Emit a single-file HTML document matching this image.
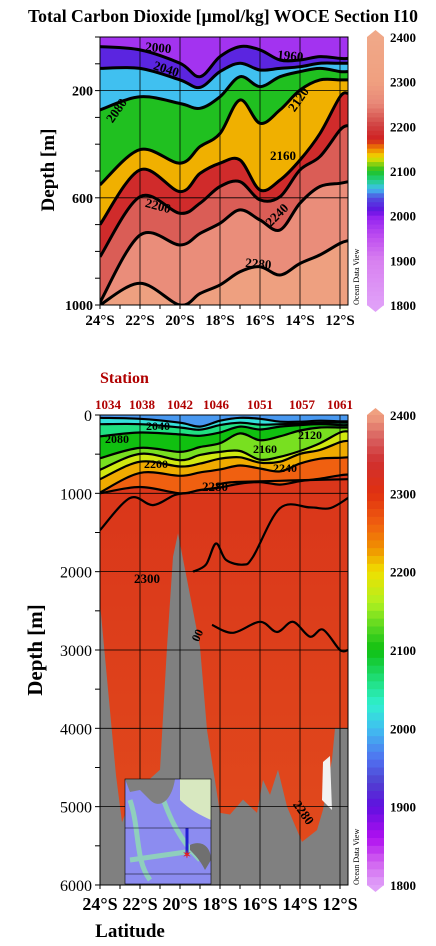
<!DOCTYPE html>
<html><head><meta charset="utf-8"><style>
html,body{margin:0;padding:0;background:#fff;}
svg{display:block;font-family:"Liberation Serif",serif;font-weight:bold;}
</style></head><body>
<svg id="fig" width="436" height="946" viewBox="0 0 436 946" xmlns="http://www.w3.org/2000/svg">
<defs>
<clipPath id="clipTop"><rect x="100" y="37" width="248" height="268"/></clipPath>
<clipPath id="clipBot"><rect x="100" y="415" width="248" height="470"/></clipPath>
<linearGradient id="deepGrad" x1="0" y1="0" x2="0" y2="1">
<stop offset="0" stop-color="#d8321a"/><stop offset="1" stop-color="#e24c1c"/>
</linearGradient>
</defs>
<text x="28" y="22" font-size="18" textLength="390" lengthAdjust="spacingAndGlyphs">Total Carbon Dioxide [µmol/kg]  WOCE Section I10</text>
<g id="topPlot"></g>
<g id="botPlot"></g>
</svg>
<script>
// ---------- data ----------
const lats = [24,22,20,19,18,17,16,15,14,13,12,11.6];
const levels = [2000,2040,2080,2120,2160,2200,2240,2280];
const depth2000 = [36,48,98,148,73,36,48,86,86,73,80,80];
const depth2040 = [117,117,160,188,129,98,123,117,111,98,98,98];
const depth2080 = [272,223,248,266,223,148,185,148,129,117,129,129];
const depth2120 = [552,420,471,409,360,235,322,272,198,160,160,160];
const depth2160 = [700,496,577,509,471,459,571,534,459,360,223,210];
const depth2200 = [820,596,658,620,558,540,608,596,496,446,347,330];
const depth2240 = [990,739,776,733,695,645,683,720,620,558,546,540];
const depth2280 = [1000,919,1000,957,925,876,857,888,845,813,770,760];
const contourDepths = [depth2000,depth2040,depth2080,depth2120,depth2160,depth2200,depth2240,depth2280];

const bottomLats = [24,23.6,23.2,22.9,22.6,22.25,21.75,21.0,20.65,20.35,20.1,19.65,19.0,18.65,18.0,17.5,16.85,16.15,15.85,15.5,15.1,14.65,13.9,13.15,12.85,12.4,12.25,11.6];
const bottomDepth = [2400,3500,4600,5200,5000,4800,4700,4530,2960,1810,1510,2100,2960,4020,5080,5100,4910,5080,4660,4850,4530,5000,5450,5300,5040,4400,4000,4000];

const c2300aLats = [24,22.5,21.35,20.25,19.5];
const c2300aDepth = [1470,1060,1150,1020,995];
const c2280bLats = [18.15,17.5,16.5,15,13.5,11.6];
const c2280bDepth = [890,860,850,840,830,820];
const c2300cLats = [19.35,18.7,18.2,17.7,16.85,16.35,15.0,13.5,12.5,11.6];
const c2300cDepth = [2000,1910,1640,1850,1910,1810,1190,1180,1190,1060];
const c2310Lats = [18.4,17.35,16.0,15.15,14.35,13.5,12.85,12.0,11.6];
const c2310Depth = [2680,2780,2640,2770,2640,2830,2740,3000,3000];

const stationIds = ["1034","1038","1042","1046","1051","1057","1061"];
const stationLats = [24,21.9,20,18.2,16,13.9,12];
const latTicks = [24,22,20,18,16,14,12];

const topColorVals = [1800,1900,1950,2000,2010,2040,2060,2080,2100,2130,2150,2170,2200,2250,2300,2400];
const topColorHex = ["#e0a0f8","#d880f0","#c050f0","#9020f0","#6010e0","#5050e0","#40c0f0","#20d080","#20c020","#f0e000","#f08000","#d02020","#d04040","#e88878","#f0a080","#f0a888"];
const botColorVals = [1800,1830,1860,1900,1930,1960,2000,2030,2060,2100,2120,2160,2200,2230,2260,2300,2340,2370,2400];
const botColorHex = ["#e0a0f8","#d060f0","#b010f0","#6010e0","#5040d0","#5070f0","#40c0f0","#30f0d0","#20e080","#10c010","#40d020","#b0f020","#f0e000","#f09000","#f06010","#e03010","#d03030","#d86060","#f0a080"];

// ---------- helpers ----------
const NS="http://www.w3.org/2000/svg";
function mk(tag,attrs,parent){const e=document.createElementNS(NS,tag);for(const k in attrs)e.setAttribute(k,attrs[k]);parent.appendChild(e);return e;}
function hex2rgb(h){return [parseInt(h.substr(1,2),16),parseInt(h.substr(3,2),16),parseInt(h.substr(5,2),16)];}
function cmap(v,vals,hex){
  if(v<=vals[0])return hex[0];
  for(let i=1;i<vals.length;i++){if(v<=vals[i]){const t=(v-vals[i-1])/(vals[i]-vals[i-1]);const a=hex2rgb(hex[i-1]),b=hex2rgb(hex[i]);return "rgb("+a.map((c,j)=>Math.round(c+(b[j]-c)*t)).join(",")+")";}}
  return hex[hex.length-1];
}
const xLat = lat => 100 + (24-lat)*20;
const yTop = d => 37 + d*0.268;
const yBot = d => 415 + d*0.07833;
function smooth(p){
  let s="M"+p[0][0].toFixed(1)+","+p[0][1].toFixed(1);
  for(let i=0;i<p.length-1;i++){
    const p0=p[Math.max(0,i-1)],p1=p[i],p2=p[i+1],p3=p[Math.min(p.length-1,i+2)];
    const c1=[p1[0]+(p2[0]-p0[0])/6,p1[1]+(p2[1]-p0[1])/6],c2=[p2[0]-(p3[0]-p1[0])/6,p2[1]-(p3[1]-p1[1])/6];
    s+=" C"+c1[0].toFixed(1)+","+c1[1].toFixed(1)+" "+c2[0].toFixed(1)+","+c2[1].toFixed(1)+" "+p2[0].toFixed(1)+","+p2[1].toFixed(1);
  }
  return s;
}
function toPts(latArr,depArr,yf){return latArr.map((l,i)=>[xLat(l),yf(depArr[i])]);}

function drawFields(g,yf,vals,hex,bgFill,clip,isTop){
  const fg=mk("g",{"clip-path":"url(#"+clip+")"},g);
  const bg=mk("rect",{x:100,y:yf(0),width:248,height:yf(isTop?1000:6000)-yf(0),fill:bgFill},fg);
  
  
  for(let k=levels.length-1;k>=0;k--){
    const p=toPts(lats,contourDepths[k],yf);
    const d=smooth(p)+" L348,"+(yf(0)-2)+" L100,"+(yf(0)-2)+" Z";
    const band=mk("path",{d:d,fill:cmap(levels[k]-20,vals,hex)},fg);
    
    
  }
  for(let k=0;k<levels.length;k++){
    const ln=mk("path",{d:smooth(toPts(lats,contourDepths[k],yf)),fill:"none",stroke:"#000","stroke-width":isTop?3:2.2},fg);
    
    
  }
  return fg;
}
function latAxis(g,y0,fs,ly){
  latTicks.forEach(l=>{
    const x=xLat(l);
    const t=mk("text",{x:x,y:ly,"font-size":fs,"text-anchor":"middle"},g);
    t.textContent=l+"°S";
    
    
  });
  for(let l=24;l>=12;l--){mk("line",{x1:xLat(l),x2:xLat(l),y1:y0,y2:y0+4,stroke:"#000"},g);}
}
function colorbar(g,y0,y1,vals,hex,labelY){
  const cb=mk("g",{},g);
  
  
  const n=60,h=(y1-y0)/n;
  for(let i=0;i<n;i++){const v=2400-(i+0.5)*600/n;mk("rect",{x:367,y:y0+i*h,width:17,height:h+0.6,fill:cmap(v,vals,hex)},cb);}
  mk("polygon",{points:"367,"+y0+" 375.5,"+(y0-7)+" 384,"+y0,fill:cmap(2400,vals,hex)},cb);
  mk("polygon",{points:"367,"+y1+" 375.5,"+(y1+7)+" 384,"+y1,fill:cmap(1800,vals,hex)},cb);
  [2400,2300,2200,2100,2000,1900,1800].forEach(v=>{
    const t=mk("text",{x:390,y:labelY(v)+5,"font-size":13},cb);t.textContent=v;
    
    
  });
}
function clabel(g,txt,x,y,rot,fs){
  const t=mk("text",{x:x,y:y,"font-size":fs||13,"text-anchor":"middle",transform:"rotate("+rot+" "+x+" "+y+")"},g);
  t.textContent=txt;
  
  
}

// ---------- top plot ----------
const gTop=document.getElementById("topPlot");
drawFields(gTop,yTop,topColorVals,topColorHex,"#eea080","clipTop",true);
[200,600].forEach(d=>mk("line",{x1:100,x2:348,y1:yTop(d),y2:yTop(d),stroke:"#000","stroke-width":0.8},gTop));
latTicks.forEach(l=>mk("line",{x1:xLat(l),x2:xLat(l),y1:37,y2:305,stroke:"#000","stroke-width":0.8},gTop));
mk("rect",{x:100,y:37,width:248,height:268,fill:"none",stroke:"#000","stroke-width":1},gTop);
for(let d=0;d<=1000;d+=100){mk("line",{x1:95,x2:100,y1:yTop(d),y2:yTop(d),stroke:"#000"},gTop);}
[200,600,1000].forEach(d=>{const t=mk("text",{x:93,y:yTop(d)+5,"font-size":14,"text-anchor":"end"},gTop);t.textContent=d;
  
  });
latAxis(gTop,305,15,325);
const ytt=mk("text",{x:54,y:170,"font-size":19,"text-anchor":"middle",transform:"rotate(-90 54 170)"},gTop);ytt.textContent="Depth [m]";


clabel(gTop,"2000",158,52,5);clabel(gTop,"2040",165,73,18);clabel(gTop,"1960",290,60,5);
clabel(gTop,"2080",120,113,-55);clabel(gTop,"2120",302,102,-55);clabel(gTop,"2160",283,160,0);
clabel(gTop,"2200",157,210,15);clabel(gTop,"2240",280,218,-45);clabel(gTop,"2280",258,268,5);
const odv1=mk("text",{x:359,y:305,"font-size":8,"font-weight":"normal",transform:"rotate(-90 359 305)"},gTop);odv1.textContent="Ocean Data View";


colorbar(gTop,37,305,topColorVals,topColorHex,v=>37+(2400-v)*268/600);

// ---------- bottom plot ----------
const gBot=document.getElementById("botPlot");
const st=mk("text",{x:100,y:383,"font-size":16,fill:"#b00000"},gBot);st.textContent="Station";


stationIds.forEach((s,i)=>{const t=mk("text",{x:xLat(stationLats[i])+(i==0?8:0),y:409,"font-size":13,fill:"#b00000","text-anchor":"middle"},gBot);t.textContent=s;
  
  });
const fb=drawFields(gBot,yBot,botColorVals,botColorHex,"url(#deepGrad)","clipBot",false);
[[c2300aLats,c2300aDepth],[c2280bLats,c2280bDepth],[c2300cLats,c2300cDepth],[c2310Lats,c2310Depth]].forEach(c=>{
  const ln=mk("path",{d:smooth(toPts(c[0],c[1],yBot)),fill:"none",stroke:"#000","stroke-width":2.2},fb);
  
  
});
const tp=toPts(bottomLats,bottomDepth,yBot);
const topo=mk("path",{d:"M"+tp.map(p=>p[0].toFixed(1)+","+p[1].toFixed(1)).join(" L")+" L348,885 L100,885 Z",fill:"#808080"},fb);


mk("polygon",{points:"322,800 323,762 330,756 332,810",fill:"#f2f2f2"},fb);
for(let d=1000;d<=5000;d+=1000)mk("line",{x1:100,x2:348,y1:yBot(d),y2:yBot(d),stroke:"#000","stroke-width":0.8},gBot);
latTicks.forEach(l=>mk("line",{x1:xLat(l),x2:xLat(l),y1:415,y2:885,stroke:"#000","stroke-width":0.8},gBot));
clabel(gBot,"2040",158,430,0,12);clabel(gBot,"2080",117,443,0,12);clabel(gBot,"2200",156,468,0,12);
clabel(gBot,"2160",265,453,0,12);clabel(gBot,"2120",310,439,0,12);clabel(gBot,"2240",285,472,0,12);
clabel(gBot,"2280",215,491,0,13);clabel(gBot,"2300",147,583,0,13);clabel(gBot,"00",201,637,-65,12);clabel(gBot,"2280",300,815,55,13);
const inset=mk("g",{},gBot);


mk("rect",{x:125,y:779,width:86,height:105,fill:"#8c8cf0"},inset);
mk("path",{d:"M130,800 C140,830 135,860 150,880 M160,790 C170,820 180,840 200,860 M130,860 L200,850",stroke:"#90e0b0","stroke-width":5,fill:"none",opacity:0.8},inset);
mk("path",{d:"M125,779 L175,779 C172,800 160,810 150,800 L140,790 L130,792 Z",fill:"#808080"},inset);
mk("path",{d:"M180,779 L211,779 L211,820 C200,815 190,810 180,800 Z",fill:"#d8e8c0"},inset);
mk("path",{d:"M190,845 C200,840 211,845 211,860 L205,870 C200,860 195,855 190,850 Z",fill:"#707070"},inset);
mk("line",{x1:187,y1:828,x2:187,y2:855,stroke:"#2020d0","stroke-width":3},inset);
mk("text",{x:187,y:858,"font-size":10,fill:"#e02020","text-anchor":"middle"},inset).textContent="✶";
mk("line",{x1:125,y1:828,x2:211,y2:828,stroke:"#000","stroke-width":0.6},inset);
mk("line",{x1:125,y1:874,x2:211,y2:874,stroke:"#000","stroke-width":0.6},inset);
mk("rect",{x:125,y:779,width:86,height:105,fill:"none",stroke:"#000","stroke-width":0.6},inset);
mk("rect",{x:100,y:415,width:248,height:470,fill:"none",stroke:"#000","stroke-width":1},gBot);
for(let d=0;d<=6000;d+=500)mk("line",{x1:95,x2:100,y1:yBot(d),y2:yBot(d),stroke:"#000"},gBot);
for(let d=0;d<=6000;d+=1000){const t=mk("text",{x:92,y:yBot(d)+6,"font-size":16,"text-anchor":"end","font-weight":"normal"},gBot);t.textContent=d;
  
  }
latAxis(gBot,885,18,910);
const yb=mk("text",{x:42,y:650,"font-size":21,"text-anchor":"middle",transform:"rotate(-90 42 650)"},gBot);yb.textContent="Depth [m]";


const xb=mk("text",{x:130,y:937,"font-size":19,"text-anchor":"middle"},gBot);xb.textContent="Latitude";


const odv2=mk("text",{x:359,y:885,"font-size":8,"font-weight":"normal",transform:"rotate(-90 359 885)"},gBot);odv2.textContent="Ocean Data View";


colorbar(gBot,415,885,botColorVals,botColorHex,v=>415+(2400-v)*470/600);
</script>
</body></html>
